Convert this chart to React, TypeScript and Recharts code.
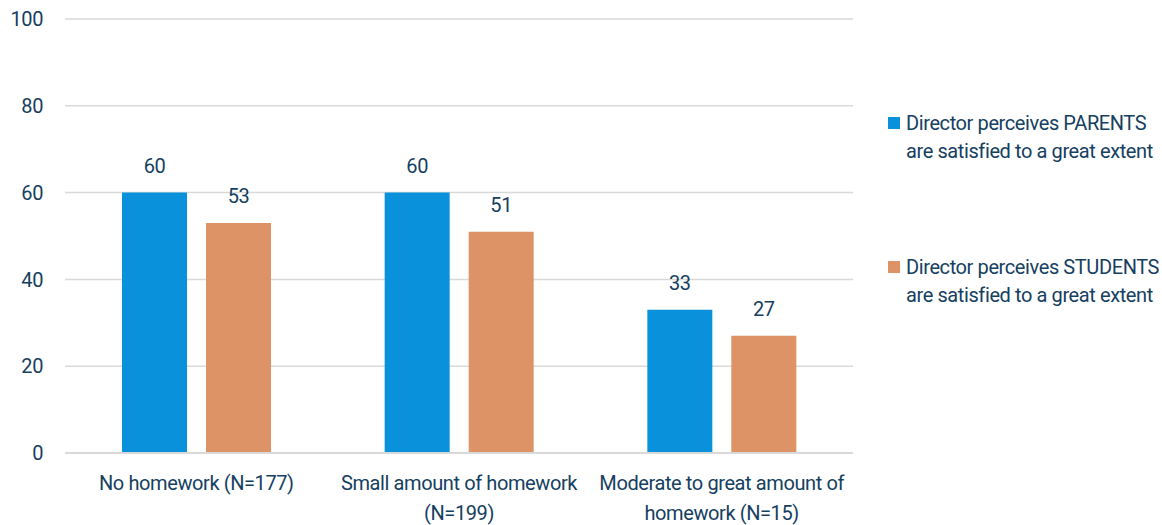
import React from "react";
import { BarChart, Bar, XAxis, YAxis, CartesianGrid, LabelList } from "recharts";

const categories = [
  "No homework (N=177)",
  "Small amount of homework\n(N=199)",
  "Moderate to great amount of\nhomework (N=15)",
];
const parentsValues = [60, 60, 33];
const studentsValues = [53, 51, 27];
const seriesNames = [
  "Director perceives PARENTS\nare satisfied to a great extent",
  "Director perceives STUDENTS\nare satisfied to a great extent",
];
const yTicks = [0, 20, 40, 60, 80, 100];

const data = categories.map((c, i) => ({
  category: c,
  parents: parentsValues[i],
  students: studentsValues[i],
}));

const FONT = 'Roboto, "Noto Sans", sans-serif';
const TEXT = "#15405f";
const BLUE = "#0A91DB";
const ORANGE = "#DD9365";
const txtStyle: React.CSSProperties = { letterSpacing: "-0.4px" };

const CategoryTick = (props: any) => {
  const { x, y, payload } = props;
  const lines = String(payload.value).split("\n");
  return (
    <g>
      {lines.map((l: string, i: number) => (
        <text
          key={i}
          x={x}
          y={y + i * 30}
          textAnchor="middle"
          dominantBaseline="central"
          fontFamily={FONT}
          fontSize={20}
          fill={TEXT}
          style={txtStyle}
        >
          {l}
        </text>
      ))}
    </g>
  );
};

const LegendBox = () => {
  const colors = [BLUE, ORANGE];
  return (
    <div
      style={{
        position: "absolute",
        left: 888,
        top: 109,
        fontFamily: FONT,
        fontSize: 20,
        letterSpacing: "-0.4px",
        color: TEXT,
        whiteSpace: "nowrap",
      }}
    >
      {seriesNames.map((n, i) => (
        <div key={i} style={{ display: "flex", alignItems: "flex-start", height: 144 }}>
          <div style={{ width: 12, height: 12, background: colors[i], marginTop: 8, marginRight: 6, flexShrink: 0 }} />
          <div style={{ lineHeight: "28px" }}>
            {n.split("\n").map((l, j) => (
              <div key={j}>{l}</div>
            ))}
          </div>
        </div>
      ))}
    </div>
  );
};

export default function App() {
  return (
    <div style={{ position: "absolute", left: 0, top: 0, width: 1162, height: 525, background: "#fff" }}>
      <BarChart
        width={1162}
        height={525}
        data={data}
        margin={{ top: 19, right: 309, bottom: 42, left: 0 }}
        barGap={19}
        barSize={65}
      >
        <CartesianGrid vertical={false} stroke="#d9d9d9" strokeWidth={1.5} />
        <YAxis
          domain={[0, 100]}
          ticks={yTicks}
          width={65}
          axisLine={false}
          tickLine={false}
          tickSize={0}
          tickMargin={22}
          tick={{ fontFamily: FONT, fontSize: 20, fill: TEXT, style: txtStyle }}
        />
        <XAxis
          dataKey="category"
          height={30}
          axisLine={{ stroke: "#d9d9d9", strokeWidth: 2 }}
          tickLine={false}
          tickSize={0}
          tickMargin={30}
          interval={0}
          tick={<CategoryTick />}
        />
        <Bar dataKey="parents" fill={BLUE} isAnimationActive={false}>
          <LabelList dataKey="parents" position="top" offset={20} fill={TEXT} fontSize={20} fontFamily={FONT} style={txtStyle} />
        </Bar>
        <Bar dataKey="students" fill={ORANGE} isAnimationActive={false}>
          <LabelList dataKey="students" position="top" offset={20} fill={TEXT} fontSize={20} fontFamily={FONT} style={txtStyle} />
        </Bar>
      </BarChart>
      <LegendBox />
    </div>
  );
}
